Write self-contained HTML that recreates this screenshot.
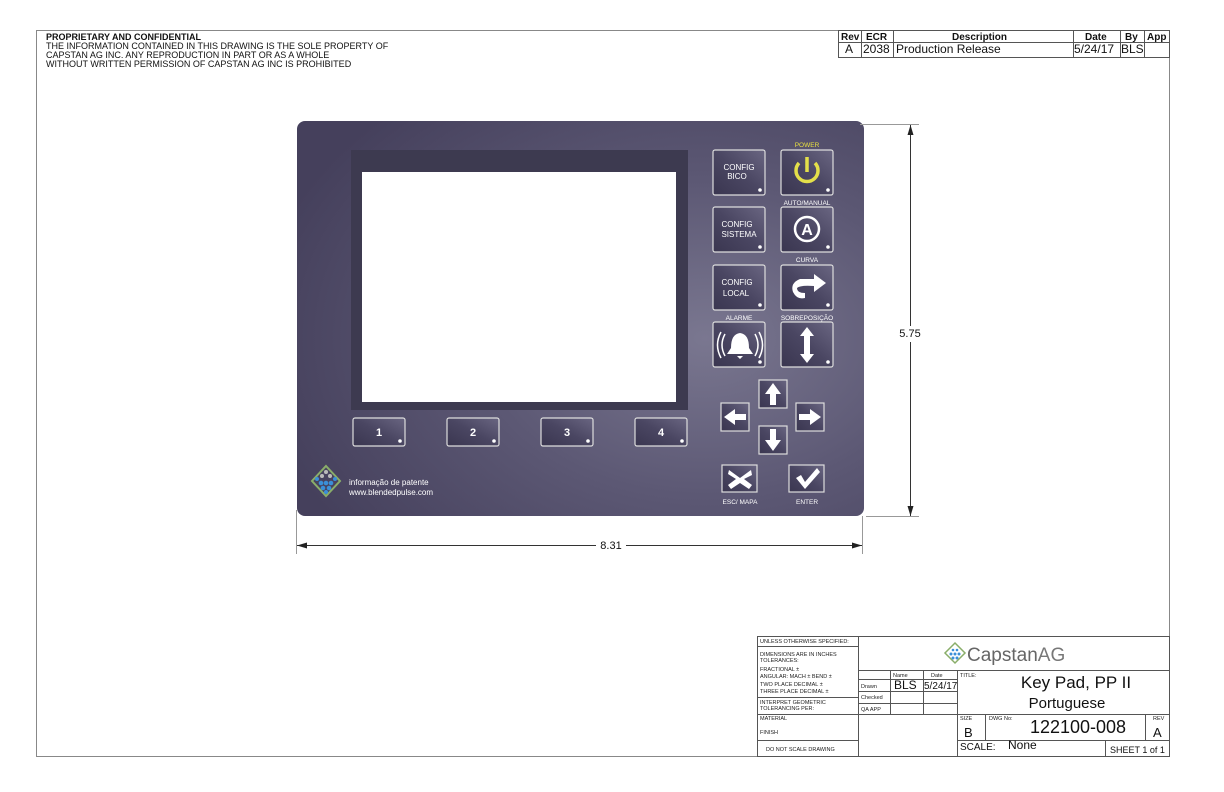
<!DOCTYPE html>
<html><head><meta charset="utf-8"><style>
html,body{margin:0;padding:0;background:#fff}
svg{display:block}
text{font-family:"Liberation Sans",sans-serif}
</style></head><body>
<svg width="1224" height="792" viewBox="0 0 1224 792" xmlns="http://www.w3.org/2000/svg">
<defs>
<radialGradient id="pg" cx="0.72" cy="0.55" r="0.8">
<stop offset="0" stop-color="#7a7790"/><stop offset="0.5" stop-color="#5c5874"/><stop offset="1" stop-color="#45405c"/></radialGradient>
<linearGradient id="bg" x1="0" y1="1" x2="1" y2="0">
<stop offset="0" stop-color="#3a3650"/><stop offset="0.5" stop-color="#4a4662"/><stop offset="1" stop-color="#6a6682"/></linearGradient>
<marker id="ar" markerWidth="10" markerHeight="6" refX="10" refY="3" orient="auto" markerUnits="userSpaceOnUse"><path d="M0,0 L10,3 L0,6z" fill="#222"/></marker>
</defs>
<rect x="36.5" y="30.5" width="1133" height="726" fill="none" stroke="#888" stroke-width="1"/>
<g font-size="9" fill="#111">
<text x="46" y="40" font-weight="bold">PROPRIETARY AND CONFIDENTIAL</text>
<text x="46" y="49">THE INFORMATION CONTAINED IN THIS DRAWING IS THE SOLE PROPERTY OF</text>
<text x="46" y="58">CAPSTAN AG INC. ANY REPRODUCTION IN PART OR AS A WHOLE</text>
<text x="46" y="67">WITHOUT WRITTEN PERMISSION OF CAPSTAN AG INC IS PROHIBITED</text>
</g>
<g stroke="#555" fill="none" stroke-width="1">
<rect x="838.5" y="30.5" width="331" height="27"/>
<line x1="838" y1="42.5" x2="1169" y2="42.5"/>
<line x1="861.5" y1="30" x2="861.5" y2="58"/><line x1="893.5" y1="30" x2="893.5" y2="58"/>
<line x1="1073.5" y1="30" x2="1073.5" y2="58"/><line x1="1120.5" y1="30" x2="1120.5" y2="58"/><line x1="1144.5" y1="30" x2="1144.5" y2="58"/>
</g>
<g font-size="10" fill="#111">
<text x="841" y="40" font-weight="bold">Rev</text><text x="866" y="40" font-weight="bold">ECR</text>
<text x="952" y="40" font-weight="bold">Description</text><text x="1085" y="40" font-weight="bold">Date</text>
<text x="1125" y="40" font-weight="bold">By</text><text x="1147" y="40" font-weight="bold">App</text>
<text font-size="12" x="845" y="53">A</text><text font-size="12" x="863" y="53">2038</text>
<text font-size="12" x="896" y="53">Production Release</text><text font-size="12" x="1074" y="53">5/24/17</text><text font-size="12" x="1121" y="53">BLS</text>
</g>
<!-- keypad -->
<rect x="297" y="121" width="567" height="395" rx="8" fill="url(#pg)"/>
<rect x="351" y="150" width="337" height="260" fill="#3d3a50"/>
<rect x="362" y="172" width="314" height="230" fill="#fff"/>
<g stroke="#ddd" stroke-width="1.2" fill="url(#bg)">
<rect x="353" y="418" width="52" height="28" rx="2"/><rect x="447" y="418" width="52" height="28" rx="2"/>
<rect x="541" y="418" width="52" height="28" rx="2"/><rect x="635" y="418" width="52" height="28" rx="2"/>
<rect x="713" y="150" width="52" height="45" rx="2"/><rect x="781" y="150" width="52" height="45" rx="2"/>
<rect x="713" y="207" width="52" height="45" rx="2"/><rect x="781" y="207" width="52" height="45" rx="2"/>
<rect x="713" y="265" width="52" height="45" rx="2"/><rect x="781" y="265" width="52" height="45" rx="2"/>
<rect x="713" y="322" width="52" height="45" rx="2"/><rect x="781" y="322" width="52" height="45" rx="2"/>
<rect x="759" y="380" width="28" height="28"/><rect x="721" y="403" width="28" height="28"/>
<rect x="796" y="403" width="28" height="28"/><rect x="759" y="426" width="28" height="28"/>
<rect x="722" y="465" width="35" height="27"/><rect x="789" y="465" width="35" height="27"/>
</g>
<g fill="#fff">
<circle cx="400" cy="441" r="1.8"/><circle cx="494" cy="441" r="1.8"/><circle cx="588" cy="441" r="1.8"/><circle cx="682" cy="441" r="1.8"/>
<circle cx="760" cy="190" r="1.8"/><circle cx="828" cy="190" r="1.8"/><circle cx="760" cy="247" r="1.8"/><circle cx="828" cy="247" r="1.8"/>
<circle cx="760" cy="305" r="1.8"/><circle cx="828" cy="305" r="1.8"/><circle cx="760" cy="362" r="1.8"/><circle cx="828" cy="362" r="1.8"/>
</g>
<g fill="#fff" font-size="11" font-weight="bold" text-anchor="middle">
<text x="379" y="436">1</text><text x="473" y="436">2</text><text x="567" y="436">3</text><text x="661" y="436">4</text>
</g>
<g fill="#fff" font-size="8" text-anchor="middle">
<text x="739" y="170">CONFIG</text><text x="737" y="179">BICO</text>
<text x="737" y="227">CONFIG</text><text x="739" y="237">SISTEMA</text>
<text x="737" y="285">CONFIG</text><text x="736" y="296">LOCAL</text>
<text x="807" y="147" font-size="6.5" fill="#e8e040">POWER</text>
<text x="807" y="205" font-size="6.5">AUTO/MANUAL</text>
<text x="807" y="262" font-size="6.5">CURVA</text>
<text x="739" y="320" font-size="6.5">ALARME</text>
<text x="807" y="320" font-size="6.5">SOBREPOSIÇÃO</text>
<text x="740" y="504" font-size="6.5">ESC/ MAPA</text>
<text x="807" y="504" font-size="6.5">ENTER</text>
</g>
<!-- icons -->
<path d="M799,163 A11,11 0 1 0 815,163" fill="none" stroke="#e4e04a" stroke-width="3.5"/>
<line x1="807" y1="157" x2="807" y2="172" stroke="#e4e04a" stroke-width="3.5"/>
<circle cx="807" cy="229" r="12" fill="none" stroke="#fff" stroke-width="2.5"/>
<text x="807" y="235" fill="#fff" font-size="16" font-weight="bold" text-anchor="middle">A</text>
<path d="M826,283 L814,274 L814,279 L800,279 Q790,283 793,292 Q797,300 805,298 L805,293 Q797,293 797,288 Q800,285 814,286 L814,292z" fill="#fff"/>
<path d="M740,333 Q731,334 731,348 L727,354 L753,354 L749,348 Q749,334 740,333z M737,356 L743,356 L740,359z" fill="#fff"/>
<path d="M725,334 Q719,345 725,356 M721,332 Q714,345 721,358 M755,334 Q761,345 755,356 M759,332 Q766,345 759,358" fill="none" stroke="#fff" stroke-width="1.5"/>
<path d="M807,327 L800,336 L804,336 L804,354 L800,354 L807,363 L814,354 L810,354 L810,336 L814,336z" fill="#fff"/>
<path d="M773,383 L765,394 L770,394 L770,405 L776,405 L776,394 L781,394z" fill="#fff"/>
<path d="M773,451 L765,440 L770,440 L770,429 L776,429 L776,440 L781,440z" fill="#fff"/>
<path d="M724,417 L735,409 L735,414 L746,414 L746,420 L735,420 L735,425z" fill="#fff"/>
<path d="M821,417 L810,409 L810,414 L799,414 L799,420 L810,420 L810,425z" fill="#fff"/>
<path d="M729,470 L740,478 L751,470 L752,475 L744,479 L752,485 L749,489 L740,483 L731,489 L728,485 L736,479 L728,474z" fill="#fff"/>
<path d="M796,478 L801,475 L805,482 L817,468 L820,472 L805,489z" fill="#fff"/>
<!-- logo -->
<path d="M326,466 L340,481 L326,496 L312,481z" fill="none" stroke="#8aae6a" stroke-width="2"/>
<g fill="#3a8fd8"><circle cx="321" cy="483" r="2.3"/><circle cx="326" cy="483" r="2.3"/><circle cx="331" cy="483" r="2.3"/><circle cx="317" cy="479" r="2"/><circle cx="335" cy="479" r="2"/><circle cx="323" cy="488" r="2.3"/><circle cx="329" cy="488" r="2.3"/><circle cx="326" cy="492" r="2"/></g>
<g fill="#bbb"><circle cx="322" cy="476" r="2"/><circle cx="330" cy="476" r="2"/><circle cx="326" cy="472" r="2"/></g>
<text x="349" y="485" fill="#fff" font-size="8">informação de patente</text>
<text x="349" y="495" fill="#fff" font-size="8">www.blendedpulse.com</text>
<!-- dimensions -->
<g stroke="#333" stroke-width="1" fill="none">
<line x1="860" y1="124.5" x2="919" y2="124.5" stroke="#999"/>
<line x1="866" y1="516.5" x2="919" y2="516.5" stroke="#999"/>
<line x1="910.5" y1="326" x2="910.5" y2="125" marker-end="url(#ar)"/>
<line x1="910.5" y1="342" x2="910.5" y2="516" marker-end="url(#ar)"/>
<line x1="296.5" y1="510" x2="296.5" y2="554" stroke="#999"/>
<line x1="862.5" y1="516" x2="862.5" y2="554" stroke="#999"/>
<line x1="596" y1="545.5" x2="297" y2="545.5" marker-end="url(#ar)"/>
<line x1="626" y1="545.5" x2="862" y2="545.5" marker-end="url(#ar)"/>
</g>
<text x="910" y="337" font-size="11" text-anchor="middle" fill="#111">5.75</text>
<text x="611" y="549" font-size="11" text-anchor="middle" fill="#111">8.31</text>
<!-- title block -->
<g stroke="#555" fill="none" stroke-width="1">
<rect x="757.5" y="636.5" width="412" height="120"/>
<line x1="858.5" y1="636" x2="858.5" y2="757"/>
<line x1="957.5" y1="670" x2="957.5" y2="757"/>
<line x1="858" y1="670.5" x2="1169" y2="670.5"/>
<line x1="757" y1="646.5" x2="858" y2="646.5"/>
<line x1="757" y1="697.5" x2="858" y2="697.5"/>
<line x1="757" y1="714.5" x2="1169" y2="714.5"/>
<line x1="757" y1="740.5" x2="858" y2="740.5"/>
<line x1="858" y1="679.5" x2="957" y2="679.5"/>
<line x1="858" y1="691.5" x2="957" y2="691.5"/>
<line x1="858" y1="703.5" x2="957" y2="703.5"/>
<line x1="890.5" y1="670" x2="890.5" y2="714"/>
<line x1="923.5" y1="670" x2="923.5" y2="714"/>
<line x1="957" y1="740.5" x2="1169" y2="740.5"/>
<line x1="985.5" y1="714" x2="985.5" y2="740"/>
<line x1="1145.5" y1="714" x2="1145.5" y2="740"/>
<line x1="1105.5" y1="740" x2="1105.5" y2="757"/>
</g>
<g font-size="5.5" fill="#222">
<text x="760" y="643">UNLESS OTHERWISE SPECIFIED:</text>
<text x="760" y="656">DIMENSIONS ARE IN INCHES</text><text x="760" y="662">TOLERANCES:</text>
<text x="760" y="671">FRACTIONAL ±</text><text x="760" y="678">ANGULAR: MACH ±    BEND ±</text>
<text x="760" y="686">TWO PLACE DECIMAL    ±</text><text x="760" y="693">THREE PLACE DECIMAL  ±</text>
<text x="760" y="704">INTERPRET GEOMETRIC</text><text x="760" y="710">TOLERANCING PER:</text>
<text x="760" y="720">MATERIAL</text><text x="760" y="734">FINISH</text>
<text x="766" y="751">DO NOT SCALE DRAWING</text>
<text x="893" y="677">Name</text><text x="931" y="677">Date</text>
<text x="861" y="688">Drawn</text><text x="861" y="699">Checked</text><text x="861" y="711">QA APP</text>
<text x="960" y="677">TITLE:</text>
<text x="960" y="720">SIZE</text><text x="989" y="720">DWG No:</text><text x="1153" y="720">REV</text>
</g>
<text x="894" y="689" font-size="12" fill="#111">BLS</text>
<text x="924" y="689" font-size="10" fill="#111">5/24/17</text>
<text x="1076" y="688" font-size="17" text-anchor="middle" fill="#111">Key Pad, PP II</text>
<text x="1067" y="708" font-size="15" text-anchor="middle" fill="#111">Portuguese</text>
<text x="964" y="737" font-size="13" fill="#111">B</text>
<text x="1078" y="733" font-size="18" text-anchor="middle" fill="#111">122100-008</text>
<text x="1153" y="737" font-size="13" fill="#111">A</text>
<text x="960" y="750" font-size="10" fill="#111">SCALE:</text>
<text x="1008" y="749" font-size="12" fill="#111">None</text>
<text x="1110" y="753" font-size="9" fill="#111">SHEET 1 of 1</text>
<!-- Capstan logo -->
<path d="M955,643 L965,653 L955,663 L945,653z" fill="none" stroke="#8aae6a" stroke-width="1.5"/>
<g fill="#3a8fd8"><circle cx="951" cy="654" r="1.5"/><circle cx="955" cy="654" r="1.5"/><circle cx="959" cy="654" r="1.5"/><circle cx="953" cy="658" r="1.5"/><circle cx="957" cy="658" r="1.5"/><circle cx="953" cy="650" r="1.3"/><circle cx="957" cy="650" r="1.3"/></g>
<text x="967" y="661" font-size="19" fill="#666">Capstan<tspan fill="#777">AG</tspan></text>
</svg>
</body></html>
